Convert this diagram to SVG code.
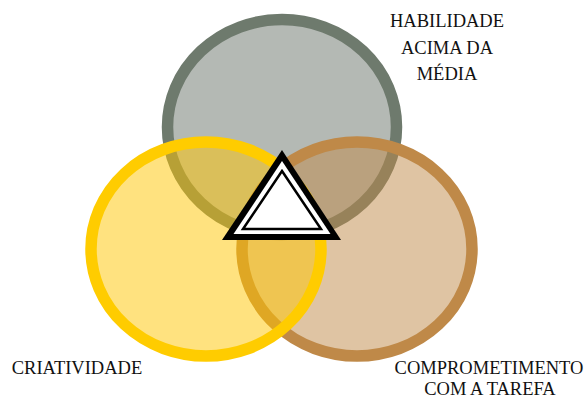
<svg xmlns="http://www.w3.org/2000/svg" width="587" height="398" viewBox="0 0 587 398">
<style>
.lbl{font-size:18.5px;fill:#111;text-anchor:middle}
.ring{stroke-width:11.5}
</style>
<rect width="587" height="398" fill="#fff"/>
<g id="habilidade">
<ellipse class="ring" cx="282" cy="127" rx="114.5" ry="107.5" fill="#b4b9b4" stroke="#6e7a6d"/>
</g>
<g id="comprometimento">
<ellipse cx="357" cy="249" rx="115" ry="107" fill="#bf8948" fill-opacity="0.5" stroke="none"/>
<ellipse class="ring" cx="357" cy="249" rx="115" ry="107" fill="none" stroke="#bf8948"/>
</g>
<g id="criatividade">
<ellipse cx="206" cy="249" rx="115" ry="107" fill="#ffc600" fill-opacity="0.5" stroke="none"/>
<ellipse class="ring" cx="206" cy="249" rx="115" ry="107" fill="none" stroke="#ffcc00"/>
</g>
<g id="triangulo">
<polygon points="282,150 341,240 222,240" fill="#000"/>
<polygon points="282,161 330.5,234 233.5,234" fill="#fff"/>
<polygon points="282,171 321,229 243,229" fill="#fff" stroke="#000" stroke-width="2.5"/>
</g>
<g id="labels" font-family="'Liberation Serif', serif">
<text class="lbl" x="447" y="27">HABILIDADE</text>
<text class="lbl" x="447" y="53.5">ACIMA DA</text>
<text class="lbl" x="447" y="80">MÉDIA</text>
<text class="lbl" x="77" y="374">CRIATIVIDADE</text>
<text class="lbl" x="489" y="374">COMPROMETIMENTO</text>
<text class="lbl" x="490" y="395">COM A TAREFA</text>
</g>
</svg>
